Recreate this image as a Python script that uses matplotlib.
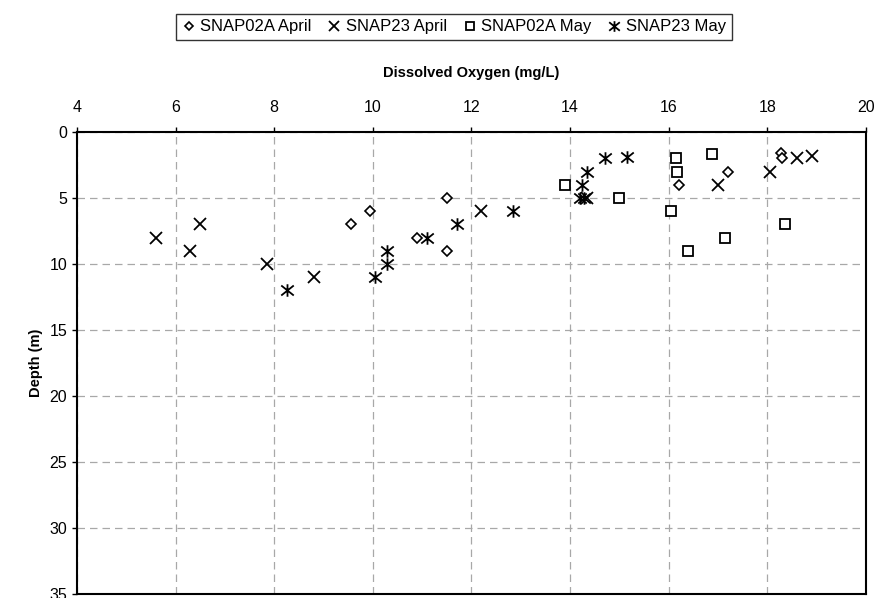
import matplotlib
matplotlib.use("Agg")
import matplotlib.pyplot as plt
from matplotlib.path import Path

plt.rcParams['font.family'] = ['Liberation Sans', 'DejaVu Sans']

# SNAP02A April (diamonds)
do_02a_apr = [9.55, 9.95, 10.9, 11.5, 11.5, 16.2, 17.2, 18.27, 18.3]
dep_02a_apr = [7, 6, 8, 5, 9, 4, 3, 1.6, 2]

# SNAP23 April (crosses)
do_23_apr = [5.6, 6.3, 6.5, 7.85, 8.8, 12.2, 14.35, 17.0, 18.05, 18.6, 18.9]
dep_23_apr = [8, 9, 7, 10, 11, 6, 5, 4, 3, 2, 1.8]

# SNAP02A May (squares)
do_02a_may = [13.9, 15.0, 16.05, 16.15, 16.17, 16.88, 16.4, 17.15, 18.35]
dep_02a_may = [4, 5, 6, 2, 3, 1.7, 9, 8, 7]

# SNAP23 May (asterisks)
do_23_may = [8.25, 10.05, 10.28, 10.28, 11.1, 11.7, 12.85, 14.2, 14.28, 14.25, 14.35, 14.7, 15.15]
dep_23_may = [12, 11, 9, 10, 8, 7, 6, 5, 5, 4, 3, 2, 1.9]

# x with a vertical bar, like the excel star marker
star = Path([(0, -1), (0, 1), (-1, -0.8), (1, 0.8), (-1, 0.8), (1, -0.8)],
            [Path.MOVETO, Path.LINETO] * 3)

fig = plt.figure(figsize=(8.78, 5.98), dpi=100)
ax = fig.add_axes([77 / 878, 1 - 594 / 598, (866 - 77) / 878, (594 - 132) / 598])

ax.plot(do_02a_apr, dep_02a_apr, ls='none', marker='D', ms=5, mfc='white', mec='black',
        mew=1.2, label='SNAP02A April')
ax.plot(do_23_apr, dep_23_apr, ls='none', marker='x', ms=8, mec='black', mew=1.3,
        label='SNAP23 April')
ax.plot(do_02a_may, dep_02a_may, ls='none', marker='s', ms=7, mfc='white', mec='black',
        mew=1.3, label='SNAP02A May')
ax.plot(do_23_may, dep_23_may, ls='none', marker=star, ms=9, mec='black', mew=1.3,
        label='SNAP23 May')

ax.set_xlim(4, 20)
ax.set_ylim(35, 0)
ax.set_xticks(range(4, 21, 2))
ax.set_yticks(range(0, 36, 5))
ax.xaxis.tick_top()
ax.xaxis.set_label_position('top')
ax.tick_params(axis='both', labelsize=11.5, direction='out', length=3.5, width=1)
ax.tick_params(axis='x', pad=8.5)

ax.set_xlabel('Dissolved Oxygen (mg/L)', fontsize=10.5, fontweight='bold', labelpad=17)
ax.set_ylabel('Depth (m)', fontsize=10.5, fontweight='bold', labelpad=5)

ax.grid(True, color='#a8a8a8', ls=(0, (6, 4)), lw=0.9)
ax.set_axisbelow(True)
for s in ax.spines.values():
    s.set_linewidth(1.5)

leg = fig.legend(loc='center', bbox_to_anchor=(454 / 878, 1 - 27 / 598), ncol=4,
                 fontsize=12, frameon=True, fancybox=False, edgecolor='black',
                 handlelength=0.8, handletextpad=0.3, columnspacing=0.95,
                 borderpad=0.35, markerscale=0.85)
leg.get_frame().set_linewidth(1.0)

fig.savefig('out.png', dpi=100)
